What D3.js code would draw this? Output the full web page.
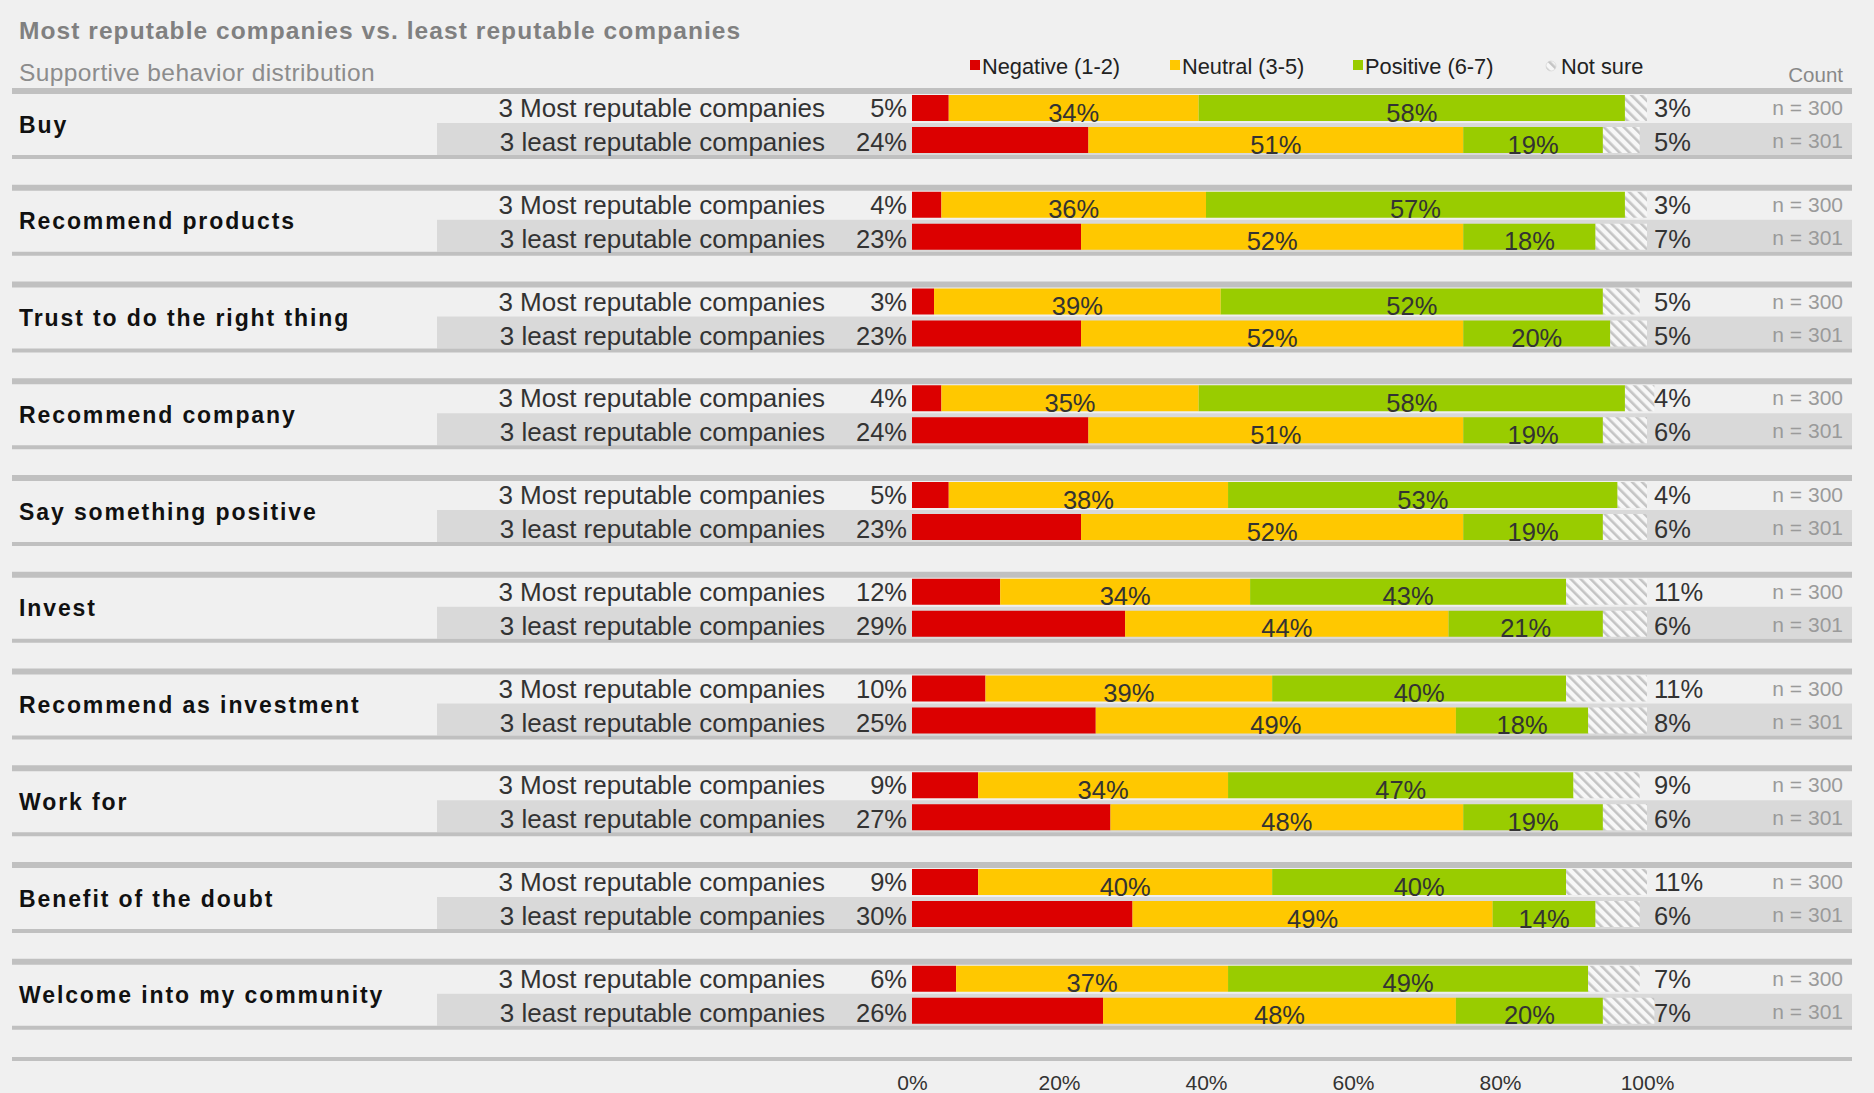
<!DOCTYPE html>
<html>
<head>
<meta charset="utf-8">
<script src="https://cdn.jsdelivr.net/npm/d3@7"></script>
<style>
  html, body { margin: 0; padding: 0; background: #f0f0f0; overflow: hidden; }
  svg { display: block; font-family: "Liberation Sans", Arial, sans-serif; }
</style>
</head>
<body>
<svg id="chart" width="1874" height="1093"></svg>
<script>
// Behaviour items, top to bottom
const behaviors = [
  "Buy",
  "Recommend products",
  "Trust to do the right thing",
  "Recommend company",
  "Say something positive",
  "Invest",
  "Recommend as investment",
  "Work for",
  "Benefit of the doubt",
  "Welcome into my community"
];

const groups = ["3 Most reputable companies", "3 least reputable companies"];
const counts = ["n = 300", "n = 301"];

const segments = ["Negative (1-2)", "Neutral (3-5)", "Positive (6-7)", "Not sure"];

// Share (%) per behaviour: [negative, neutral, positive, not sure]
const mostReputable = [
  [5, 34, 58, 3],
  [4, 36, 57, 3],
  [3, 39, 52, 5],
  [4, 35, 58, 4],
  [5, 38, 53, 4],
  [12, 34, 43, 11],
  [10, 39, 40, 11],
  [9, 34, 47, 9],
  [9, 40, 40, 11],
  [6, 37, 49, 7]
];

const leastReputable = [
  [24, 51, 19, 5],
  [23, 52, 18, 7],
  [23, 52, 20, 5],
  [24, 51, 19, 6],
  [23, 52, 19, 6],
  [29, 44, 21, 6],
  [25, 49, 18, 8],
  [27, 48, 19, 6],
  [30, 49, 14, 6],
  [26, 48, 20, 7]
];

const axisTicks = [0, 20, 40, 60, 80, 100];

const colors = ["#dc0000", "#ffc800", "#99cc00"];

const svg = d3.select("#chart");

// Hatch for the "Not sure" share
const defs = svg.append("defs");
const pat = defs.append("pattern")
  .attr("id", "hatch")
  .attr("patternUnits", "userSpaceOnUse")
  .attr("width", 7).attr("height", 7)
  .attr("patternTransform", "rotate(-45)");
pat.append("rect").attr("width", 7).attr("height", 7).attr("fill", "#f7f7f7");
pat.append("rect").attr("width", 2.6).attr("height", 7).attr("fill", "#c4c4c4");

const x = d3.scaleLinear().domain([0, 100]).range([912, 1647]);
const groupBand = d3.scaleLinear().domain([0, behaviors.length]).range([88, 88 + 96.75 * behaviors.length]);

const lineLeft = 12, lineRight = 1852;

// spread a heading's letters so it spans the given width
function spreadTo(sel, width) {
  const node = sel.node();
  const natural = node.getComputedTextLength();
  const n = node.textContent.length;
  sel.attr("letter-spacing", ((width - natural) / n).toFixed(2));
}

// Title block
const title = svg.append("text").attr("x", 19).attr("y", 39)
  .attr("fill", "#808080").attr("font-size", 24.5).attr("font-weight", "bold")
  .text("Most reputable companies vs. least reputable companies");
spreadTo(title, 722);
const subtitle = svg.append("text").attr("x", 19).attr("y", 81)
  .attr("fill", "#8c8c8c").attr("font-size", 24.5)
  .text("Supportive behavior distribution");
spreadTo(subtitle, 356);

// Legend
const legendX = [970, 1170, 1353, 1545];
const leg = svg.append("g");
segments.forEach((s, i) => {
  const g = leg.append("g").attr("transform", `translate(${legendX[i]},0)`);
  if (i < 3) {
    g.append("rect").attr("x", 0).attr("y", 60).attr("width", 10).attr("height", 10).attr("fill", colors[i]);
  } else {
    g.append("circle").attr("cx", 6).attr("cy", 66).attr("r", 5).attr("fill", "url(#hatch)")
      .attr("stroke", "#d0d0d0").attr("stroke-width", 0.6);
  }
  g.append("text").attr("x", i === 3 ? 16 : 12).attr("y", 74)
    .attr("font-size", 21.8).attr("fill", "#222").text(s);
});
svg.append("text").attr("x", 1843).attr("y", 82).attr("text-anchor", "end")
  .attr("font-size", 20.5).attr("fill", "#888").text("Count");

// One block per behaviour
behaviors.forEach((b, gi) => {
  const top = groupBand(gi);
  const g = svg.append("g");
  const rows = [mostReputable[gi], leastReputable[gi]];

  // second row shading
  g.append("rect").attr("x", 437).attr("y", top + 35).attr("width", lineRight - 437).attr("height", 32)
    .attr("fill", "#d9d9d9");
  // separators
  g.append("rect").attr("x", lineLeft).attr("y", top).attr("width", lineRight - lineLeft).attr("height", 6)
    .attr("fill", "#c0c0c0");
  g.append("rect").attr("x", lineLeft).attr("y", top + 67).attr("width", lineRight - lineLeft).attr("height", 4)
    .attr("fill", "#c0c0c0");

  g.append("text").attr("x", 19).attr("y", top + 44.5)
    .attr("font-size", 23).attr("font-weight", "bold").attr("letter-spacing", 1.9)
    .attr("fill", "#111").text(b);

  rows.forEach((vals, ri) => {
    const barY = top + (ri === 0 ? 7 : 39);
    const barH = 26;
    const base = top + (ri === 0 ? 29 : 63);

    g.append("text").attr("x", 825).attr("y", base).attr("text-anchor", "end")
      .attr("font-size", 26).attr("fill", "#333").text(groups[ri]);

    let acc = 0;
    vals.forEach((v, si) => {
      const x0 = x(acc), x1 = x(acc + v);
      g.append("rect").attr("x", x0).attr("y", barY).attr("width", x1 - x0).attr("height", barH)
        .attr("fill", si < 3 ? colors[si] : "url(#hatch)");
      if (si === 0) {
        g.append("text").attr("x", 907).attr("y", base).attr("text-anchor", "end")
          .attr("font-size", 25.5).attr("fill", "#333").text(v + "%");
      } else if (si < 3) {
        g.append("text").attr("x", (x0 + x1) / 2).attr("y", barY + barH + 0.5).attr("text-anchor", "middle")
          .attr("font-size", 25.5).attr("fill", "#333").text(v + "%");
      } else {
        g.append("text").attr("x", 1654).attr("y", base)
          .attr("font-size", 25.5).attr("fill", "#333").text(v + "%");
      }
      acc += v;
    });

    g.append("text").attr("x", 1843).attr("y", top + (ri === 0 ? 27 : 60)).attr("text-anchor", "end")
      .attr("font-size", 21).attr("fill", "#9a9a9a").text(counts[ri]);
  });
});

// Bottom rule and percentage axis
svg.append("rect").attr("x", lineLeft).attr("y", 1057).attr("width", lineRight - lineLeft).attr("height", 4)
  .attr("fill", "#c0c0c0");
const axis = d3.axisBottom(x).tickValues(axisTicks).tickFormat(d => d + "%").tickSize(0).tickPadding(0);
const ax = svg.append("g").attr("transform", "translate(0,1075)").call(axis);
ax.select(".domain").remove();
ax.selectAll("text").attr("font-size", 21).attr("fill", "#333")
  .attr("font-family", "Liberation Sans, Arial, sans-serif").attr("dy", "0.71em");
</script>
</body>
</html>
